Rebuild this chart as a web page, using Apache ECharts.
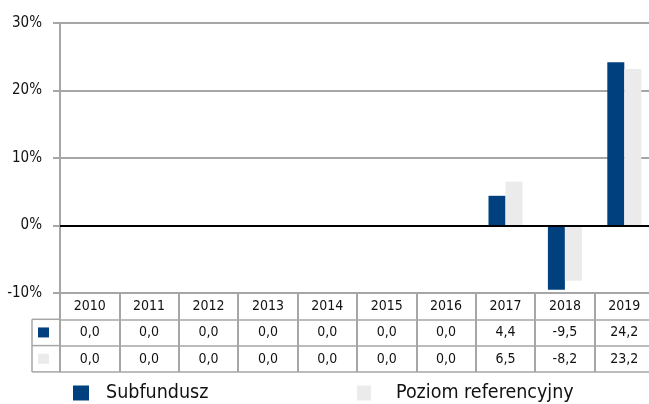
<!DOCTYPE html>
<html>
<head>
<meta charset="utf-8">
<script src="https://cdn.jsdelivr.net/npm/echarts@6/dist/echarts.min.js"></script>
<style>
  html, body { margin: 0; padding: 0; background: #fff; overflow: hidden; }
  #chart { width: 660px; height: 404px; }
</style>
</head>
<body>
<div id="chart"></div>
<script>
// ---- data ----
const years = ['2010','2011','2012','2013','2014','2015','2016','2017','2018','2019'];
const subfundusz = [0.0, 0.0, 0.0, 0.0, 0.0, 0.0, 0.0, 4.4, -9.5, 24.2];
const poziomRef = [0.0, 0.0, 0.0, 0.0, 0.0, 0.0, 0.0, 6.5, -8.2, 23.2];
const seriesNames = ['Subfundusz', 'Poziom referencyjny'];
const yTicks = { min: -10, max: 30, interval: 10 };

// ---- style ----
const FONT = '"DejaVu Sans Condensed", "DejaVu Sans", sans-serif';
const TXT = '#111111';
const GRIDC = '#a6a6a6';
const NAVY = '#00407f';
const LIGHT = '#ebebeb';
const GRID_LEFT = 60, GRID_TOP = 23, GRID_W = 594, GRID_H = 270;
const ROW_H = 26.3;
const TABLE_TOP = GRID_TOP + GRID_H;
const LEFT_COL = 32;

const fmt = v => v.toFixed(1).replace('.', ',');

function tableAxis(offset, values) {
  return {
    type: 'category', data: years, position: 'bottom', offset: offset,
    axisLine: { show: true, onZero: false, lineStyle: { color: GRIDC, width: 1.5 } },
    axisTick: { show: false },
    axisLabel: values ? {
      show: true, interval: 0, margin: 13.5, verticalAlign: 'middle',
      fontFamily: FONT, fontSize: 14, color: TXT,
      formatter: (v, i) => fmt(values[i])
    } : { show: false },
    splitLine: { show: false }
  };
}

const chart = echarts.init(document.getElementById('chart'), null, { renderer: 'canvas' });
const option = {
  animation: false,
  backgroundColor: '#fff',
  textStyle: { fontFamily: FONT },
  grid: { left: GRID_LEFT, top: GRID_TOP, width: GRID_W, height: GRID_H, containLabel: false },
  legend: [
    { data: [seriesNames[0]], left: 73, top: 383, icon: 'rect', itemWidth: 16, itemHeight: 15, padding: 0,
      textStyle: { fontFamily: FONT, fontSize: 19.5, lineHeight: 20, color: TXT, padding: [0,0,0,12] } },
    { data: [seriesNames[1]], left: 357, top: 383, icon: 'rect', itemWidth: 14, itemHeight: 15, padding: 0,
      textStyle: { fontFamily: FONT, fontSize: 19.5, lineHeight: 20, color: TXT, padding: [0,0,0,20] } }
  ],
  xAxis: [
    {
      type: 'category', data: years, position: 'bottom', offset: 0,
      axisLine: { show: true, onZero: false, lineStyle: { color: GRIDC, width: 2 } },
      axisTick: { show: true, length: 79, interval: 0, lineStyle: { color: GRIDC, width: 2 } },
      axisLabel: { interval: 0, margin: 13, verticalAlign: 'middle', fontFamily: FONT, fontSize: 14, color: TXT },
      splitLine: { show: false }
    },
    tableAxis(ROW_H, subfundusz),
    tableAxis(ROW_H * 2, poziomRef),
    tableAxis(ROW_H * 3, null)
  ],
  yAxis: {
    type: 'value', min: yTicks.min, max: yTicks.max, interval: yTicks.interval,
    axisLine: { show: true, lineStyle: { color: GRIDC, width: 2 } },
    axisTick: { show: true, length: 7, lineStyle: { color: GRIDC, width: 2 } },
    axisLabel: { margin: 18, fontFamily: FONT, fontSize: 15, color: TXT, formatter: '{value}%' },
    splitLine: { show: true, lineStyle: { color: GRIDC, width: 2 } }
  },
  series: [
    {
      name: seriesNames[0], type: 'bar', data: subfundusz, barWidth: 17, barGap: '0%',
      itemStyle: { color: NAVY },
      markLine: {
        silent: true, symbol: 'none', label: { show: false },
        lineStyle: { color: '#000', width: 2, type: 'solid' },
        data: [{ yAxis: 0 }]
      }
    },
    {
      name: seriesNames[1], type: 'bar', data: poziomRef, barWidth: 17, barGap: '0%',
      itemStyle: { color: LIGHT }
    }
  ]
};
chart.setOption(option);

// left column of the data table (legend keys), positioned from the grid layout
const r1 = TABLE_TOP + ROW_H, r2 = TABLE_TOP + ROW_H * 2, r3 = TABLE_TOP + ROW_H * 3;
const lineStyle = { stroke: GRIDC, lineWidth: 1.5 };
chart.setOption({
  graphic: [
    { type: 'line', shape: { x1: LEFT_COL, y1: r1, x2: GRID_LEFT, y2: r1 }, style: lineStyle },
    { type: 'line', shape: { x1: LEFT_COL, y1: r2, x2: GRID_LEFT, y2: r2 }, style: lineStyle },
    { type: 'line', shape: { x1: LEFT_COL, y1: r3, x2: GRID_LEFT, y2: r3 }, style: lineStyle },
    { type: 'line', shape: { x1: LEFT_COL, y1: r1, x2: LEFT_COL, y2: r3 }, style: lineStyle },
    { type: 'rect', shape: { x: 38, y: (r1 + r2) / 2 - 5, width: 11, height: 10 }, style: { fill: NAVY } },
    { type: 'rect', shape: { x: 38, y: (r2 + r3) / 2 - 5, width: 11, height: 10 }, style: { fill: LIGHT } }
  ]
});
</script>
</body>
</html>
